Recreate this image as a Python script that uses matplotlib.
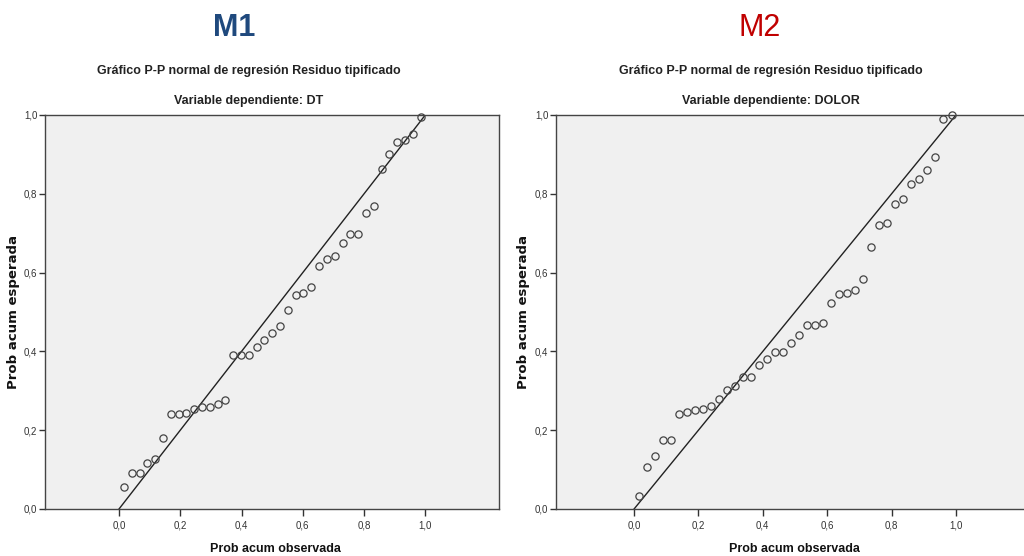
import matplotlib
matplotlib.use("Agg")
import matplotlib.pyplot as plt
from matplotlib import font_manager

names = {f.name for f in font_manager.fontManager.ttflist}
NARROW = "Liberation Sans Narrow" if "Liberation Sans Narrow" in names else "Liberation Sans"
ARIAL = "Liberation Sans"

# ---- data ----
m1_obs = [0.016, 0.042, 0.067, 0.092, 0.118, 0.144, 0.169, 0.195, 0.220, 0.246,
          0.271, 0.297, 0.322, 0.347, 0.373, 0.398, 0.423, 0.449, 0.474, 0.501,
          0.526, 0.551, 0.577, 0.602, 0.628, 0.653, 0.679, 0.704, 0.730, 0.755,
          0.780, 0.806, 0.831, 0.857, 0.882, 0.909, 0.934, 0.959, 0.985]
m1_exp = [0.057, 0.091, 0.092, 0.117, 0.127, 0.179, 0.240, 0.241, 0.244, 0.254,
          0.259, 0.260, 0.267, 0.277, 0.392, 0.392, 0.392, 0.410, 0.429, 0.446,
          0.465, 0.504, 0.544, 0.548, 0.564, 0.618, 0.635, 0.641, 0.674, 0.697,
          0.699, 0.752, 0.768, 0.862, 0.901, 0.932, 0.937, 0.951, 0.996]

m2_obs = [0.0145, 0.039, 0.064, 0.089, 0.114, 0.139, 0.164, 0.189, 0.213, 0.238,
          0.264, 0.289, 0.314, 0.339, 0.364, 0.389, 0.413, 0.438, 0.463, 0.488,
          0.513, 0.538, 0.563, 0.588, 0.612, 0.637, 0.662, 0.687, 0.712, 0.737,
          0.762, 0.786, 0.811, 0.836, 0.861, 0.886, 0.911, 0.936, 0.961, 0.989]
m2_exp = [0.034, 0.106, 0.135, 0.174, 0.175, 0.242, 0.247, 0.251, 0.253, 0.262,
          0.280, 0.303, 0.311, 0.334, 0.334, 0.366, 0.380, 0.398, 0.399, 0.422,
          0.441, 0.466, 0.466, 0.473, 0.523, 0.546, 0.548, 0.555, 0.585, 0.666,
          0.721, 0.727, 0.773, 0.786, 0.825, 0.838, 0.861, 0.894, 0.991, 1.000]

ticks = [0.0, 0.2, 0.4, 0.6, 0.8, 1.0]
tick_labels = ["0,0", "0,2", "0,4", "0,6", "0,8", "1,0"]
ref_line = [0.0, 1.0]

panels = [
    dict(tag="M1", tag_color="#1F497D", tag_weight="bold", dep="Variable dependiente: DT",
         obs=m1_obs, exp=m1_exp, rect_px=(45, 115, 499, 509), xlim=(-0.2416, 1.2406),
         tag_x=234, sub_x=249, ylab_x=14, xlab_x=275),
    dict(tag="M2", tag_color="#C00000", tag_weight="normal", dep="Variable dependiente: DOLOR",
         obs=m2_obs, exp=m2_exp, rect_px=(556, 115, 1034, 509), xlim=(-0.2425, 1.2425),
         tag_x=760, sub_x=771, ylab_x=524, xlab_x=794),
]

W, H = 1024, 556
fig = plt.figure(figsize=(W / 100, H / 100), dpi=100)
fig.patch.set_facecolor("white")

for p in panels:
    l, t, r, b = p["rect_px"]
    ax = fig.add_axes([l / W, 1 - b / H, (r - l) / W, (b - t) / H])
    ax.set_facecolor("#f0f0f0")
    ax.plot(ref_line, ref_line, color="#222222", lw=1.0, zorder=2)
    ax.plot(p["obs"], p["exp"], linestyle="none", marker="o", markersize=5.2,
            markerfacecolor="none", markeredgecolor="#444444", markeredgewidth=0.9,
            zorder=3, clip_on=False)
    ax.set_xlim(*p["xlim"])
    ax.set_ylim(0, 1)
    ax.set_xticks(ticks)
    ax.set_xticklabels(tick_labels)
    ax.set_yticks(ticks)
    ax.set_yticklabels(tick_labels)
    ax.tick_params(axis="x", direction="out", length=5, width=1, pad=3,
                   labelsize=7, colors="#333333")
    ax.tick_params(axis="y", direction="out", length=4.5, width=1, pad=1,
                   labelsize=7, colors="#333333")
    for lab in ax.get_xticklabels() + ax.get_yticklabels():
        lab.set_family(NARROW)
    for s in ax.spines.values():
        s.set_color("#444444")
        s.set_linewidth(1.0)

    fig.text(p["tag_x"] / W, 1 - 28 / H, p["tag"], ha="center", va="center",
             fontsize=22, color=p["tag_color"], fontweight=p["tag_weight"], family=ARIAL)
    fig.text(p["sub_x"] / W, 1 - 71 / H, "Gráfico P-P normal de regresión Residuo tipificado",
             ha="center", va="center", fontsize=9, fontweight="bold", color="#222222",
             family=NARROW)
    fig.text(p["sub_x"] / W, 1 - 101 / H, p["dep"],
             ha="center", va="center", fontsize=9, fontweight="bold", color="#222222",
             family=NARROW)
    fig.text(p["ylab_x"] / W, 1 - 312 / H, "Prob acum esperada", rotation=90,
             ha="center", va="center", fontsize=9.5, fontweight="bold", color="#111111",
             family="DejaVu Sans")
    fig.text(p["xlab_x"] / W, 1 - 549 / H, "Prob acum observada",
             ha="center", va="center", fontsize=9, fontweight="bold", color="#111111",
             family=NARROW)

fig.savefig("out.png", dpi=100)
